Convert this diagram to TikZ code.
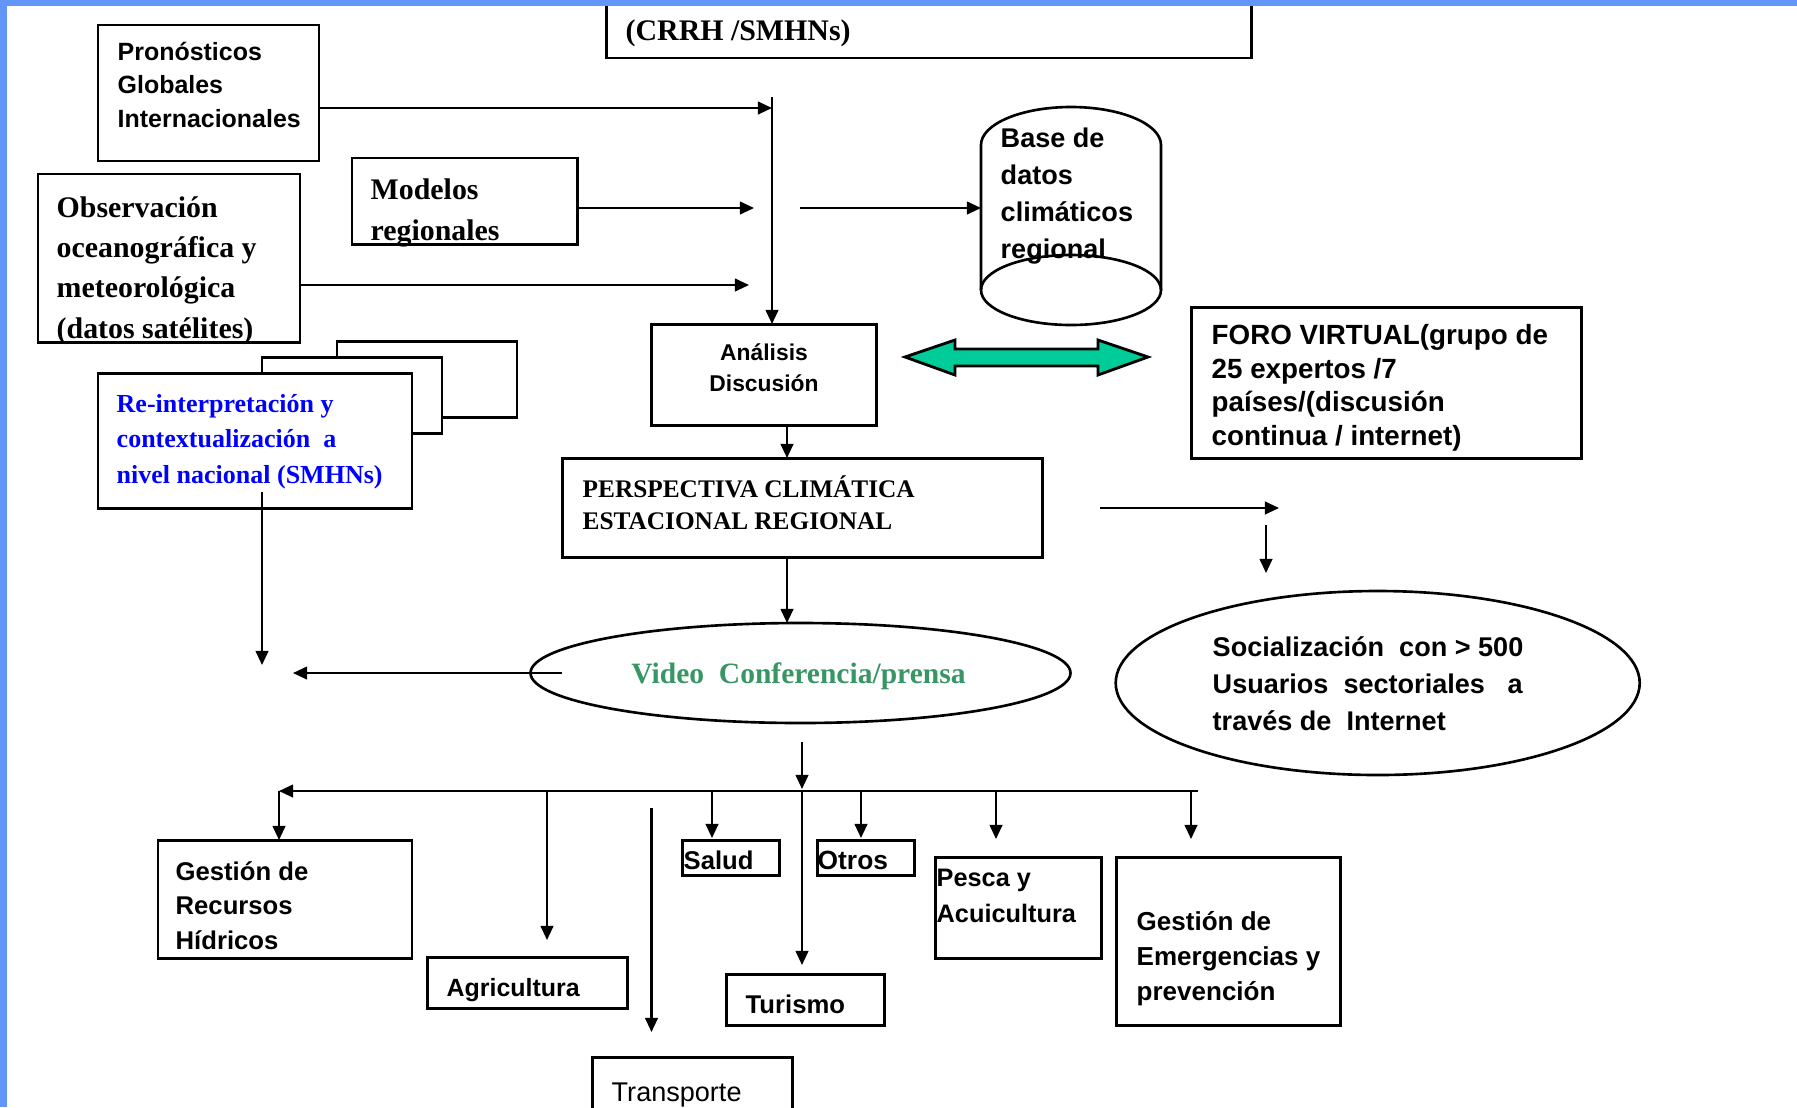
\documentclass[tikz,border=0pt]{standalone}
\usepackage{fontspec}
\setmainfont{Liberation Serif}
\setsansfont{Liberation Sans}
\usepackage{tikz}
\usetikzlibrary{arrows.meta, positioning, shapes.geometric}

\definecolor{bordeazul}{RGB}{100,150,250}
\definecolor{verdeflecha}{RGB}{0,204,153}
\definecolor{verdetexto}{RGB}{55,150,100}

\tikzset{
    caja/.style={draw, line width=0.85pt, inner sep=0pt, outer sep=0pt, anchor=north west, fill=white},
    elipse/.style={draw, ellipse, line width=0.75pt, inner sep=0pt, outer sep=0pt},
    flecha/.style={->, line width=0.6pt},
    sans/.style 2 args={font=\sffamily\bfseries\fontsize{#1}{#2}\selectfont, align=left, anchor=base west, inner sep=0pt},
    serif/.style 2 args={font=\rmfamily\bfseries\fontsize{#1}{#2}\selectfont, align=left, anchor=base west, inner sep=0pt}
}

\begin{document}
\begin{tikzpicture}[x=0.1mm, y=-0.1mm, >={Triangle[length=4pt, width=3.6pt]}]

% 画布
\useasboundingbox (0,0) rectangle (1797,1107);
\clip (0,0) rectangle (1797,1107);
\fill[white] (0,0) rectangle (1797,1107);

% 上部：输入方框
\node[caja, minimum width=64.5mm, minimum height=9.8mm] (crrh) at (606,-40) {};
\node[caja, minimum width=22.1mm, minimum height=13.6mm] (pron) at (98,25) {};
\node[caja, minimum width=26.2mm, minimum height=16.8mm] (obs) at (38,174) {};
\node[caja, minimum width=22.5mm, minimum height=8.6mm] (mod) at (352,158) {};
\node[caja, minimum width=22.5mm, minimum height=10.1mm] (anal) at (651.5,324) {};
\node[caja, minimum width=48mm, minimum height=9.9mm] (persp) at (562,458) {};
\node[caja, minimum width=39mm, minimum height=15.1mm] (foro) at (1191,307) {};

% 叠放的三个方框
\node[caja, minimum width=18mm, minimum height=7.6mm] (reint3) at (337,341) {};
\node[caja, minimum width=18mm, minimum height=7.6mm] (reint2) at (262,357) {};
\node[caja, minimum width=31.4mm, minimum height=13.5mm] (reint) at (98,373) {};

% 数据库圆柱
\draw[line width=0.75pt] (981,290) -- (981,145) arc[start angle=180, end angle=360, x radius=90, y radius=38] -- (1161,290);
\draw[line width=0.75pt] (1071,290) ellipse [x radius=90, y radius=35];
\coordinate (bdw) at (981,208);

% 椭圆
\node[elipse, minimum width=54mm, minimum height=10mm] (video) at (800.5,673) {};
\node[elipse, minimum width=52.4mm, minimum height=18.4mm] (soc) at (1377.7,683) {};

% 下部：部门方框
\node[caja, minimum width=25.4mm, minimum height=11.8mm] (gest) at (158,840) {};
\node[caja, minimum width=20mm, minimum height=5.1mm] (agri) at (427,957) {};
\node[caja, minimum width=20mm, minimum height=10mm] (trans) at (592,1057) {};
\node[caja, minimum width=9.7mm, minimum height=3.5mm] (salud) at (682,840) {};
\node[caja, minimum width=9.7mm, minimum height=3.5mm] (otros) at (817,840) {};
\node[caja, minimum width=15.8mm, minimum height=5.1mm] (tur) at (726,974) {};
\node[caja, minimum width=16.55mm, minimum height=10.1mm] (pesca) at (935.5,857) {};
\node[caja, minimum width=22.45mm, minimum height=16.8mm] (emerg) at (1116,857) {};

% 文字（多行文字以最后一行基线定位）
\node[serif={8.5}{10}] (tcrrh) at (625,40) {(CRRH /SMHNs)};
\node[sans={7.1}{9.4}] (tpron) at (117,127) {Pronósticos\\Globales\\Internacionales};
\node[serif={8.5}{11.4}] (tobs) at (56,338) {Observación\\oceanográfica y\\meteorológica\\(datos satélites)};
\node[serif={8.5}{11.4}] (tmod) at (370,240) {Modelos\\regionales};
\node[sans={6.5}{8.8}, align=center, anchor=base] (tanal) at (764,391) {Análisis\\Discusión};
\node[serif={7.2}{9.1}] (tpersp) at (582,529) {PERSPECTIVA CLIMÁTICA\\ESTACIONAL REGIONAL};
\node[serif={7.4}{10}, text=blue] (treint) at (116,483) {Re-interpretación y\\contextualización\ \ a\\nivel nacional (SMHNs)};
\node[sans={7.7}{10.5}] (tbase) at (1000,258) {Base de\\datos\\climáticos\\regional};
\node[sans={7.9}{9.5}] (tforo) at (1211,445) {FORO VIRTUAL(grupo de\\25 expertos /7\\países/(discusión\\continua / internet)};
\node[serif={8.4}{10}, text=verdetexto, anchor=base] (tvideo) at (798.5,683) {Video\ \ Conferencia/prensa};
\node[sans={7.7}{10.4}] (tsoc) at (1212,730) {Socialización\ \ con > 500\\Usuarios\ \ sectoriales\ \ \ a\\través de\ \ Internet};
\node[sans={7.3}{9.8}] (tgest) at (175,949) {Gestión de\\Recursos\\Hídricos};
\node[sans={7.1}{9}] (tagri) at (446,996) {Agricultura};
\node[sans={7.7}{9}, font=\sffamily\fontsize{7.7}{9}\selectfont] (ttrans) at (611,1101) {Transporte};
\node[sans={7.3}{9}] (tsalud) at (683,869) {Salud};
\node[sans={7.5}{9}] (totros) at (817,869) {Otros};
\node[sans={7.3}{9}] (ttur) at (745,1013) {Turismo};
\node[sans={7.2}{10.2}] (tpesca) at (936,922) {Pesca y\\Acuicultura};
\node[sans={7.4}{9.9}] (temerg) at (1136,1000) {Gestión de\\Emergencias y\\prevención};

% 输入箭头
\coordinate (v0) at (772,97);
\coordinate (p1) at (772,108);
\coordinate (p2) at (754,208);
\coordinate (p3) at (749,285);
\coordinate (p4) at (800,208);
\draw[flecha] (pron.east |- p1) -- (p1);
\draw[flecha] (v0) -- (anal.north -| v0);
\draw[flecha] (mod.east |- p2) -- (p2);
\draw[flecha] (obs.east |- p3) -- (p3);
\draw[flecha] (p4) -- (bdw);

% 中间箭头
\coordinate (p5) at (787,0);
\coordinate (p8) at (293,673);
\draw[flecha] (anal.south -| p5) -- (persp.north -| p5);
\draw[flecha] (persp.south -| p5) -- (video.north -| p5);
\draw[flecha] ([xshift=3.1mm]video.west) -- (p8);
\coordinate (r1) at (262,492);
\coordinate (r2) at (262,665);
\draw[flecha] (r1) -- (r2);

% 双向箭头
\filldraw[fill=verdeflecha, line width=0.8pt] (905,357) -- (955,340) -- (955,349) -- (1098,349) -- (1098,340) -- (1148,357) -- (1098,375) -- (1098,366) -- (955,366) -- (955,375) -- cycle;

% 右侧箭头
\coordinate (q1) at (1100,508);
\coordinate (q2) at (1279,508);
\coordinate (q3) at (1266,525);
\coordinate (q4) at (1266,573);
\draw[flecha] (q1) -- (q2);
\draw[flecha] (q3) -- (q4);

% 分支
\coordinate (v1) at (802,742);
\coordinate (v2) at (802,789);
\coordinate (bus) at (1198,791);
\coordinate (b0) at (279,791);
\draw[flecha] (v1) -- (v2);
\draw[flecha] (bus) -- (b0);
\draw[flecha] (b0) -- (gest.north -| b0);
\coordinate (kAg) at (547,940);
\coordinate (kSa) at (712,838);
\coordinate (kTu) at (802,965);
\coordinate (kOt) at (861,838);
\coordinate (kPe) at (996,839);
\coordinate (kEm) at (1191,839);
\coordinate (kTr0) at (651.5,808);
\coordinate (kTr) at (651.5,1032);
\draw[flecha] (kAg |- bus) -- (kAg);
\draw[flecha] (kSa |- bus) -- (kSa);
\draw[flecha] (kTu |- bus) -- (kTu);
\draw[flecha] (kOt |- bus) -- (kOt);
\draw[flecha] (kPe |- bus) -- (kPe);
\draw[flecha] (kEm |- bus) -- (kEm);
\draw[flecha] (kTr0) -- (kTr);

% 蓝色边
\fill[bordeazul] (0,0) rectangle (1797,6);
\fill[bordeazul] (0,0) rectangle (7,1107);

\end{tikzpicture}
\end{document}
